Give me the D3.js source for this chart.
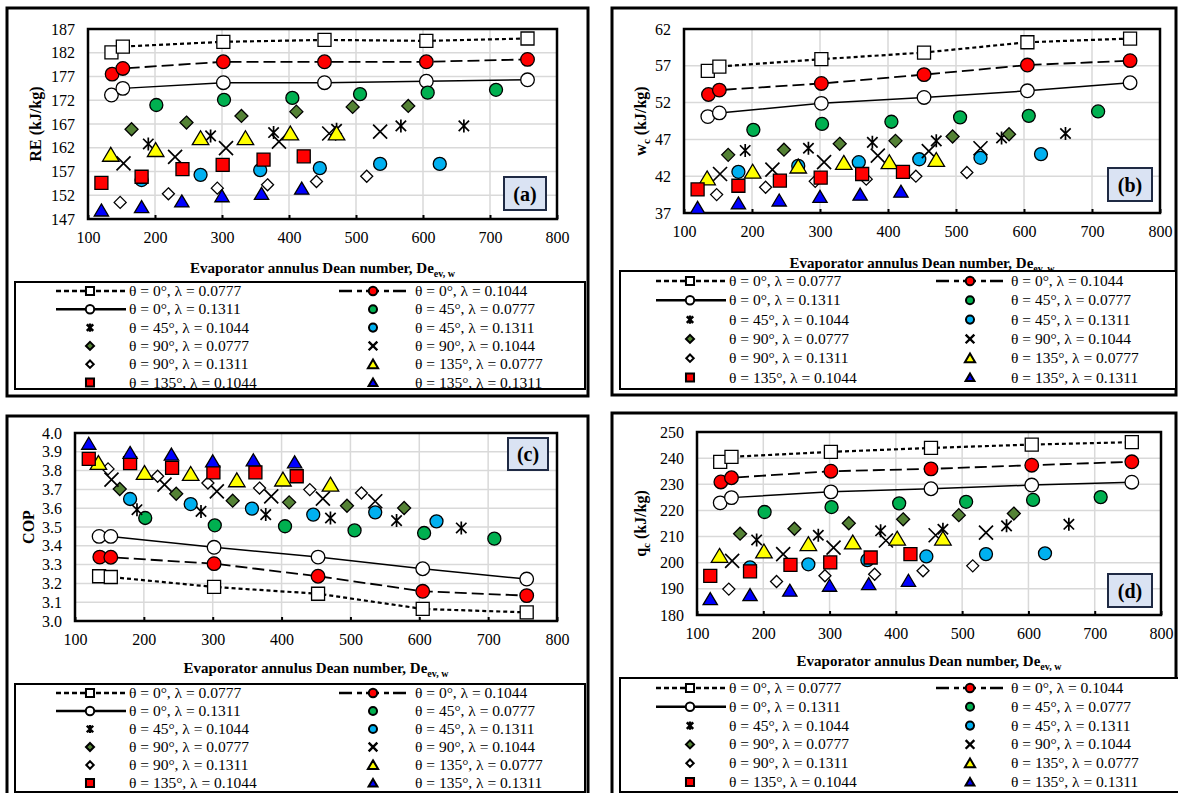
<!DOCTYPE html>
<html>
<head>
<meta charset="utf-8">
<script src="https://cdn.jsdelivr.net/npm/d3@7"></script>
<style>
body { margin: 0; background: #fff; }
svg { display: block; }
svg text { font-family: "Liberation Serif", "Times New Roman", "DejaVu Serif", serif; }
</style>
</head>
<body>
<script>
"use strict";

/* Dean number of each series (same in all four panels) */
var de00a = [135, 152, 302, 453, 605, 756];   // θ=0°,  λ=0.0777
var de00b = [136, 152, 302, 453, 605, 756];   // θ=0°,  λ=0.1044
var de00c = [135, 152, 302, 453, 605, 756];   // θ=0°,  λ=0.1311
var de45a = [202, 303, 405, 506, 607, 709];
var de45b = [190, 283, 377, 471, 567, 661];
var de45c = [180, 268, 357, 446, 536, 625];
var de90a = [165, 247, 329, 411, 495, 578];
var de90b = [153, 230, 306, 385, 460, 536];
var de90c = [148, 220, 293, 368, 441, 516];
var de135a = [134, 201, 268, 335, 402, 471];
var de135b = [120, 180, 241, 301, 362, 422];
var de135c = [120, 180, 240, 300, 359, 419];

var labels = ["θ = 0°, λ = 0.0777", "θ = 0°, λ = 0.1044", "θ = 0°, λ = 0.1311",
	"θ = 45°, λ = 0.0777", "θ = 45°, λ = 0.1044", "θ = 45°, λ = 0.1311",
	"θ = 90°, λ = 0.0777", "θ = 90°, λ = 0.1044", "θ = 90°, λ = 0.1311",
	"θ = 135°, λ = 0.0777", "θ = 135°, λ = 0.1044", "θ = 135°, λ = 0.1311"];

/* (a) refrigeration effect RE, kJ/kg */
var RE_00a = [182.1, 183.3, 184.3, 184.7, 184.5, 185.0];
var RE_00b = [177.5, 178.7, 180.1, 180.1, 180.1, 180.6];
var RE_00c = [173.1, 174.5, 175.7, 175.7, 176.0, 176.3];
var RE_45a = [171.0, 172.1, 172.5, 173.3, 173.6, 174.2];
var RE_45b = [162.8, 164.5, 165.2, 165.9, 166.6, 166.6];
var RE_45c = [155.2, 156.3, 157.3, 157.7, 158.6, 158.6];
var RE_90a = [165.9, 167.3, 168.7, 169.6, 170.6, 170.8];
var RE_90b = [158.7, 160.1, 161.9, 163.3, 165.0, 165.4];
var RE_90c = [150.5, 152.3, 153.5, 154.2, 154.9, 156.0];
var RE_135a = [160.5, 161.5, 164.0, 164.0, 165.0, 165.0];
var RE_135b = [154.6, 155.9, 157.5, 158.4, 159.5, 160.2];
var RE_135c = [148.8, 149.5, 150.7, 151.8, 152.3, 153.4];

/* (b) compressor work wc, kJ/kg */
var WC_00a = [56.3, 56.9, 57.9, 58.8, 60.2, 60.7];
var WC_00b = [53.1, 53.7, 54.6, 55.8, 57.1, 57.7];
var WC_00c = [50.1, 50.6, 51.9, 52.7, 53.6, 54.7];
var WC_45a = [48.3, 49.1, 49.4, 50.0, 50.2, 50.8];
var WC_45b = [45.5, 45.8, 46.6, 46.8, 47.2, 47.8];
var WC_45c = [42.6, 43.4, 43.9, 44.3, 44.5, 45.0];
var WC_90a = [44.9, 45.6, 46.4, 46.8, 47.4, 47.7];
var WC_90b = [42.3, 42.9, 43.9, 44.8, 45.4, 45.8];
var WC_90c = [39.5, 40.5, 41.3, 41.6, 42.0, 42.5];
var WC_135a = [41.7, 42.6, 43.3, 43.8, 43.9, 44.2];
var WC_135b = [40.2, 40.7, 41.4, 41.8, 42.3, 42.6];
var WC_135c = [37.7, 38.3, 38.7, 39.2, 39.5, 39.9];

/* (c) COP */
var COP_00a = [3.238, 3.234, 3.181, 3.145, 3.064, 3.046];
var COP_00b = [3.340, 3.339, 3.305, 3.238, 3.158, 3.135];
var COP_00c = [3.450, 3.450, 3.392, 3.340, 3.278, 3.223];
var COP_45a = [3.548, 3.509, 3.504, 3.482, 3.468, 3.438];
var COP_45b = [3.592, 3.583, 3.566, 3.548, 3.534, 3.495];
var COP_45c = [3.649, 3.622, 3.598, 3.566, 3.578, 3.530];
var COP_90a = [3.702, 3.677, 3.640, 3.631, 3.613, 3.601];
var COP_90b = [3.752, 3.725, 3.690, 3.663, 3.651, 3.637];
var COP_90c = [3.809, 3.770, 3.734, 3.707, 3.699, 3.681];
var COP_135a = [3.840, 3.787, 3.782, 3.748, 3.752, 3.725];
var COP_135b = [3.862, 3.840, 3.814, 3.791, 3.791, 3.770];
var COP_135c = [3.943, 3.894, 3.885, 3.849, 3.855, 3.844];

/* (d) condenser heat qc, kJ/kg */
var QC_00a = [238.6, 240.5, 242.4, 243.9, 245.2, 246.1];
var QC_00b = [230.9, 232.5, 235.0, 235.9, 237.3, 238.6];
var QC_00c = [222.9, 224.9, 227.1, 228.3, 229.7, 230.8];
var QC_45a = [219.4, 221.3, 222.7, 223.3, 224.0, 225.1];
var QC_45b = [208.7, 210.5, 212.2, 212.8, 214.1, 214.7];
var QC_45c = [198.2, 199.4, 201.0, 202.4, 203.3, 203.6];
var QC_90a = [211.1, 213.0, 215.1, 216.6, 218.2, 218.8];
var QC_90b = [200.7, 203.3, 205.8, 208.5, 210.5, 211.5];
var QC_90c = [189.9, 192.8, 195.0, 195.6, 196.9, 198.8];
var QC_135a = [202.6, 204.3, 207.1, 207.7, 209.2, 209.2];
var QC_135b = [195.0, 196.7, 199.2, 200.1, 202.0, 203.3];
var QC_135c = [186.1, 187.6, 189.3, 191.2, 191.8, 193.1];

var xTicks = [100, 200, 300, 400, 500, 600, 700, 800];

var deList = [de00a, de00b, de00c, de45a, de45b, de45c, de90a, de90b, de90c, de135a, de135b, de135c];
var RE = [RE_00a, RE_00b, RE_00c, RE_45a, RE_45b, RE_45c, RE_90a, RE_90b, RE_90c, RE_135a, RE_135b, RE_135c];
var WC = [WC_00a, WC_00b, WC_00c, WC_45a, WC_45b, WC_45c, WC_90a, WC_90b, WC_90c, WC_135a, WC_135b, WC_135c];
var COP = [COP_00a, COP_00b, COP_00c, COP_45a, COP_45b, COP_45c, COP_90a, COP_90b, COP_90c, COP_135a, COP_135b, COP_135c];
var QC = [QC_00a, QC_00b, QC_00c, QC_45a, QC_45b, QC_45c, QC_90a, QC_90b, QC_90c, QC_135a, QC_135b, QC_135c];

var SERIF = "Liberation Serif, Times New Roman, DejaVu Serif, serif";

// marker + line style of each series
var styles = [
	{shape: "square", size: 6.5, fill: "#fff", dash: "4,3", lw: 2.2, ldash: "5,3"},
	{shape: "circle", size: 6.8, fill: "#ff0000", dash: "12,5", lw: 1.8, ldash: "13,5,5,4"},
	{shape: "circle", size: 6.8, fill: "#fff", dash: "none", lw: 1.5, ldash: "none"},
	{shape: "circle", size: 6.5, fill: "#00b050"},
	{shape: "star", size: 6.5, fill: "none"},
	{shape: "circle", size: 6.5, fill: "#00b0f0"},
	{shape: "diamond", size: 6.5, fill: "#548235"},
	{shape: "x", size: 7, fill: "none"},
	{shape: "diamond", size: 6, fill: "#fff"},
	{shape: "tri", size: 7.5, fill: "#ffff00"},
	{shape: "square", size: 6.5, fill: "#ff0000"},
	{shape: "tri", size: 6.5, fill: "#0000ff"}
];

function markerPath(shape, s) {
	if (shape == "circle") return "M" + s + ",0A" + s + "," + s + " 0 1,1 " + (-s) + ",0A" + s + "," + s + " 0 1,1 " + s + ",0Z";
	if (shape == "square") return "M" + (-s) + "," + (-s) + "H" + s + "V" + s + "H" + (-s) + "Z";
	if (shape == "diamond") return "M0," + (-s) + "L" + s + ",0L0," + s + "L" + (-s) + ",0Z";
	if (shape == "tri") return "M0," + (-s) + "L" + (s * 1.1) + "," + (s * 0.85) + "L" + (-s * 1.1) + "," + (s * 0.85) + "Z";
	if (shape == "x") return "M" + (-s) + "," + (-s) + "L" + s + "," + s + "M" + (-s) + "," + s + "L" + s + "," + (-s);
	// asterisk: X plus vertical bar
	var d = s * 0.8;
	return "M" + (-d) + "," + (-d) + "L" + d + "," + d + "M" + (-d) + "," + d + "L" + d + "," + (-d) + "M0," + (-s) + "L0," + s;
}

function drawMarker(g, st, x, y, scale, sw) {
	var open = st.shape == "x" || st.shape == "star";
	g.append("path")
		.attr("transform", "translate(" + x + "," + y + ")")
		.attr("d", markerPath(st.shape, st.size * scale))
		.attr("fill", open ? "none" : st.fill)
		.attr("stroke", "#000")
		.attr("stroke-width", open ? sw + 0.4 : sw);
}

var svg = d3.select("body").append("svg")
	.attr("width", 1178)
	.attr("height", 793)
	.attr("font-family", SERIF);

var panels = [
	{tag: "(a)", vals: RE, frame: [7, 8, 581, 388], plot: {l: 88, r: 557, t: 29, b: 219},
		ydom: [147, 187], yticks: d3.range(147, 188, 5), yfmt: d3.format("d"),
		ytitle: ["RE (kJ/kg)", "", ""], ytx: 35, xty: 273, box: [504, 177, 42, 33],
		leg: {x: 15, y: 282, w: 570, h: 107, r0: 291, dr: 18.3, s1: 90, t1: 129, s2: 373, t2: 415}},
	{tag: "(b)", vals: WC, frame: [612, 8, 564, 387], plot: {l: 684, r: 1160, t: 29, b: 213},
		ydom: [37, 62], yticks: d3.range(37, 63, 5), yfmt: d3.format("d"),
		ytitle: ["w", "c", " (kJ/kg)"], ytx: 640, xty: 268, box: [1108, 168, 44, 33],
		leg: {x: 620, y: 271, w: 556, h: 118, r0: 281, dr: 19.3, s1: 690, t1: 729, s2: 970, t2: 1011}},
	{tag: "(c)", vals: COP, frame: [7, 416, 581, 382], plot: {l: 75, r: 557, t: 433, b: 621},
		ydom: [3.0, 4.0], yticks: d3.range(0, 11).map(function(i) { return 3 + i / 10; }), yfmt: d3.format(".1f"),
		ytitle: ["COP", "", ""], ytx: 28, xty: 673, box: [508, 438, 40, 32],
		leg: {x: 15, y: 684, w: 570, h: 108, r0: 693, dr: 18, s1: 90, t1: 129, s2: 373, t2: 415}},
	{tag: "(d)", vals: QC, frame: [612, 413, 564, 385], plot: {l: 697, r: 1161, t: 432, b: 615},
		ydom: [180, 250], yticks: d3.range(180, 251, 10), yfmt: d3.format("d"),
		ytitle: ["q", "c", " (kJ/kg)"], ytx: 640, xty: 666, box: [1108, 574, 44, 33],
		leg: {x: 620, y: 678, w: 560, h: 114, r0: 688, dr: 18.8, s1: 690, t1: 729, s2: 970, t2: 1011}}
];

panels.forEach(drawPanel);

function drawPanel(p) {
	var g = svg.append("g");
	// outer frame
	g.append("rect")
		.attr("x", p.frame[0]).attr("y", p.frame[1])
		.attr("width", p.frame[2]).attr("height", p.frame[3])
		.attr("fill", "none").attr("stroke", "#000").attr("stroke-width", 3);

	var x = d3.scaleLinear().domain([100, 800]).range([p.plot.l, p.plot.r]);
	var y = d3.scaleLinear().domain(p.ydom).range([p.plot.b, p.plot.t]);

	// grid
	g.append("g").selectAll("line")
		.data(xTicks.slice(1, -1))
		.enter().append("line")
		.attr("x1", function(d) { return x(d); }).attr("x2", function(d) { return x(d); })
		.attr("y1", p.plot.t).attr("y2", p.plot.b)
		.attr("stroke", "#d9d9d9").attr("stroke-width", 1.5);
	g.append("g").selectAll("line")
		.data(p.yticks.slice(1, -1))
		.enter().append("line")
		.attr("x1", p.plot.l).attr("x2", p.plot.r)
		.attr("y1", function(d) { return y(d); }).attr("y2", function(d) { return y(d); })
		.attr("stroke", "#d9d9d9").attr("stroke-width", 1.5);

	// axes
	var ax = g.append("g")
		.attr("transform", "translate(0," + p.plot.b + ")")
		.call(d3.axisBottom(x).tickValues(xTicks).tickSizeInner(-4).tickSizeOuter(0).tickPadding(13));
	var ay = g.append("g")
		.attr("transform", "translate(" + p.plot.l + ",0)")
		.call(d3.axisLeft(y).tickValues(p.yticks).tickFormat(p.yfmt).tickSize(0).tickPadding(13));
	[ax, ay].forEach(function(a) {
		a.attr("font-family", SERIF).attr("font-size", 16);
		a.select(".domain").remove();
		a.selectAll("line").attr("stroke", "#000").attr("stroke-width", 2);
		a.selectAll("text").attr("fill", "#000");
	});

	// plot frame
	g.append("rect")
		.attr("x", p.plot.l).attr("y", p.plot.t)
		.attr("width", p.plot.r - p.plot.l).attr("height", p.plot.b - p.plot.t)
		.attr("fill", "none").attr("stroke", "#000").attr("stroke-width", 2.5);

	// lines for θ = 0°
	var line = d3.line()
		.x(function(d) { return x(d[0]); })
		.y(function(d) { return y(d[1]); });
	for (var i = 0; i < 3; i++) {
		var pts = deList[i].map(function(v, j) { return [v, p.vals[i][j]]; });
		g.append("path")
			.attr("d", line(pts))
			.attr("fill", "none")
			.attr("stroke", "#000")
			.attr("stroke-width", styles[i].lw)
			.attr("stroke-dasharray", styles[i].dash);
	}
	// markers
	for (var k = 0; k < 12; k++) {
		for (var m = 0; m < deList[k].length; m++) {
			drawMarker(g, styles[k], x(deList[k][m]), y(p.vals[k][m]), 1, 1.3);
		}
	}

	// tag box
	g.append("rect")
		.attr("x", p.box[0]).attr("y", p.box[1])
		.attr("width", p.box[2]).attr("height", p.box[3])
		.attr("fill", "#dae3f3").attr("stroke", "#1f2a44").attr("stroke-width", 2);
	g.append("text")
		.attr("x", p.box[0] + p.box[2] / 2).attr("y", p.box[1] + p.box[3] / 2 + 7)
		.attr("text-anchor", "middle")
		.attr("font-size", 20).attr("font-weight", "bold")
		.text(p.tag);

	// y title
	var yt = g.append("text")
		.attr("transform", "translate(" + p.ytx + "," + ((p.plot.t + p.plot.b) / 2) + ") rotate(-90)")
		.attr("text-anchor", "middle")
		.attr("dy", "0.35em")
		.attr("font-size", 16).attr("font-weight", "bold");
	yt.append("tspan").text(p.ytitle[0]);
	if (p.ytitle[1]) {
		yt.append("tspan").attr("dy", 4).attr("font-size", 11).text(p.ytitle[1]);
		yt.append("tspan").attr("dy", -4).text(p.ytitle[2]);
	}

	// x title
	var xt = g.append("text")
		.attr("x", (p.plot.l + p.plot.r) / 2).attr("y", p.xty)
		.attr("text-anchor", "middle")
		.attr("font-size", 15).attr("font-weight", "bold");
	xt.append("tspan").text("Evaporator annulus Dean number, De");
	xt.append("tspan").attr("dy", 4).attr("font-size", 10).text("ev, w");

	drawLegend(g, p.leg);
}

function drawLegend(g, L) {
	g.append("rect")
		.attr("x", L.x).attr("y", L.y).attr("width", L.w).attr("height", L.h)
		.attr("fill", "#fff").attr("stroke", "#000").attr("stroke-width", 2);
	labels.forEach(function(lab, i) {
		var row = Math.floor(i / 2), col = i % 2;
		var cy = L.r0 + row * L.dr;
		var sx = col ? L.s2 : L.s1;
		var tx = col ? L.t2 : L.t1;
		var st = styles[i];
		if (i < 3) {
			g.append("line")
				.attr("x1", sx - 34).attr("x2", sx + 36)
				.attr("y1", cy).attr("y2", cy)
				.attr("stroke", "#000").attr("stroke-width", 2.6)
				.attr("stroke-dasharray", st.ldash);
		}
		drawMarker(g, st, sx, cy, 0.62, 2);
		g.append("text")
			.attr("x", tx).attr("y", cy + 5)
			.attr("font-size", 15.5)
			.text(lab);
	});
}
</script>
</body>
</html>
